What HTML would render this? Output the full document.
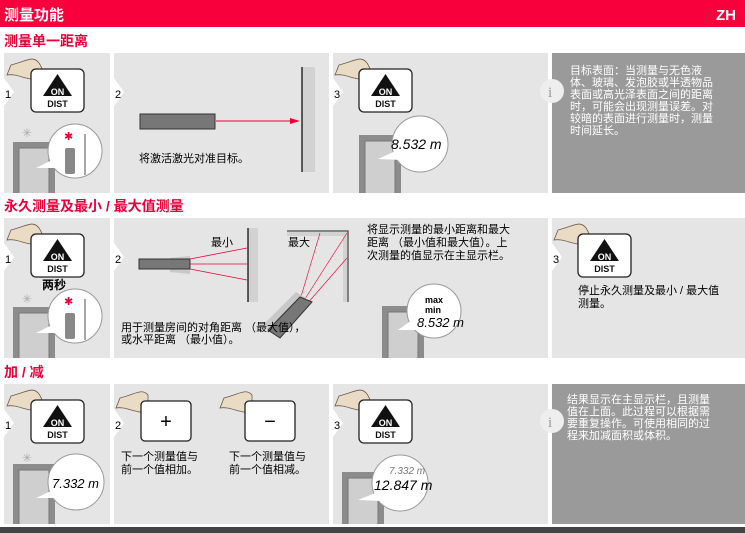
<!DOCTYPE html>
<html><head><meta charset="utf-8"><style>
body{margin:0;width:745px;height:533px;overflow:hidden;background:#fff;font-family:"Liberation Sans","Noto Sans CJK SC",sans-serif}
svg{display:block}
</style></head><body>
<svg width="745" height="533" viewBox="0 0 745 533" xmlns="http://www.w3.org/2000/svg" font-family="Liberation Sans, Noto Sans CJK SC, sans-serif">
<defs>
<clipPath id="r1"><rect x="0" y="53" width="745" height="140"/></clipPath>
<clipPath id="r2"><rect x="0" y="218" width="745" height="140"/></clipPath>
<clipPath id="r3"><rect x="0" y="384" width="745" height="140"/></clipPath>
<g id="btn">
 <path d="M8 -6 C2 -14 -4 -8 -20 -4 L-24 6 C-14 4 -4 12 8 10 C14 8 12 0 8 -6Z" fill="#eadbc4" stroke="#6d5b4a" stroke-width="0.8"/>
 <rect x="0" y="0" width="53" height="43" rx="5" fill="#fff" stroke="#222" stroke-width="1.3"/>
 <path d="M26.5 5 L41 27 L12 27Z" fill="#111"/>
 <text x="26.5" y="26" font-size="9" font-weight="bold" fill="#fff" text-anchor="middle">ON</text>
 <text x="26.5" y="38" font-size="9" font-weight="bold" fill="#111" text-anchor="middle">DIST</text>
</g>
<g id="dev">
 <rect x="0" y="0" width="42" height="70" fill="#8c8c8c"/>
 <rect x="6" y="6" width="30" height="64" fill="#cfcfcf" stroke="#777"/>
</g>
<g id="arrowTab"><path d="M0 0 L10 14 L0 28Z" fill="#fff"/></g>
</defs>

<rect x="0" y="0" width="745" height="27" fill="#f7003b"/>
<text x="4" y="20" font-size="15" font-weight="bold" fill="#fff">测量功能</text>
<text x="716" y="20" font-size="15" font-weight="bold" fill="#fff">ZH</text>
<text x="4" y="46" font-size="14" font-weight="bold" fill="#e8003a">测量单一距离</text>

<!-- row1 -->
<g clip-path="url(#r1)">
<rect x="4" y="53" width="106" height="140" fill="#e5e5e5"/>
<rect x="114" y="53" width="215" height="140" fill="#e5e5e5"/>
<rect x="333" y="53" width="215" height="140" fill="#e5e5e5"/>
<rect x="552" y="53" width="193" height="140" fill="#9a9a9a"/>
<use href="#arrowTab" x="4" y="78"/><use href="#arrowTab" x="114" y="78"/><use href="#arrowTab" x="333" y="78"/>
<text x="5" y="98" font-size="11">1</text><text x="115" y="98" font-size="11">2</text><text x="334" y="98" font-size="11">3</text>
<use href="#btn" x="31" y="69"/>
<use href="#dev" x="13" y="142"/>
<text x="22" y="137" font-size="12" fill="#aaa">✳</text>
<circle cx="75" cy="151" r="27" fill="#fff" stroke="#999"/>
<path d="M52 160 L36 168 L55 168Z" fill="#fff"/>
<rect x="65" y="148" width="10" height="26" rx="2" fill="#888"/>
<text x="64" y="140" font-size="11" fill="#e8003a">✱</text>
<line x1="85" y1="175" x2="85" y2="134" stroke="#888" stroke-width="1.5"/>
<rect x="140" y="114" width="75" height="15" fill="#777" stroke="#333"/>
<line x1="216" y1="121" x2="292" y2="121" stroke="#e8003a"/>
<path d="M290 118 L300 121 L290 124Z" fill="#e8003a"/>
<rect x="302" y="67" width="13" height="105" fill="#d2d2d2"/>
<line x1="302" y1="67" x2="302" y2="172" stroke="#111" stroke-width="1.3"/>
<text x="139" y="162" font-size="11">将激活激光对准目标。</text>
<use href="#btn" x="359" y="69"/>
<use href="#dev" x="359" y="135"/>
<circle cx="420" cy="144" r="28" fill="#fff" stroke="#999"/>
<path d="M398 150 L378 159 L402 160Z" fill="#fff"/>
<text x="391" y="149" font-size="14" font-style="italic">8.532 m</text>
<circle cx="552" cy="91" r="12" fill="#eee"/>
<text x="548" y="97" font-size="15" font-family="Liberation Serif,serif" fill="#999">i</text>
<g font-size="11" fill="#fff"><text x="570" y="74">目标表面：当测量与无色液</text><text x="570" y="86">体、玻璃、发泡胶或半透物品</text><text x="570" y="98">表面或高光泽表面之间的距离</text><text x="570" y="110">时，可能会出现测量误差。对</text><text x="570" y="122">较暗的表面进行测量时，测量</text><text x="570" y="134">时间延长。</text></g>
</g>

<!-- row2 -->
<text x="4" y="211" font-size="14" font-weight="bold" fill="#e8003a">永久测量及最小 / 最大值测量</text>
<g clip-path="url(#r2)">
<rect x="4" y="218" width="106" height="140" fill="#e5e5e5"/>
<rect x="114" y="218" width="434" height="140" fill="#e5e5e5"/>
<rect x="552" y="218" width="193" height="140" fill="#e5e5e5"/>
<use href="#arrowTab" x="4" y="243"/><use href="#arrowTab" x="114" y="243"/><use href="#arrowTab" x="552" y="243"/>
<text x="5" y="263" font-size="11">1</text><text x="115" y="263" font-size="11">2</text><text x="553" y="263" font-size="11">3</text>
<use href="#btn" x="31" y="234"/>
<text x="42" y="289" font-size="12" font-weight="bold">两秒</text>
<use href="#dev" x="13" y="307"/>
<text x="22" y="303" font-size="12" fill="#aaa">✳</text>
<circle cx="75" cy="316" r="27" fill="#fff" stroke="#999"/>
<path d="M52 325 L36 333 L55 333Z" fill="#fff"/>
<rect x="65" y="313" width="10" height="26" rx="2" fill="#888"/>
<text x="64" y="305" font-size="11" fill="#e8003a">✱</text>
<line x1="85" y1="340" x2="85" y2="299" stroke="#888" stroke-width="1.5"/>
<path d="M170 258 L190 256 L190 274 L170 272Z" fill="#c8c8c8"/>
<rect x="139" y="259" width="51" height="10" fill="#777" stroke="#333"/>
<g stroke="#e8003a" stroke-width="0.8"><line x1="190" y1="264" x2="247" y2="264"/><line x1="190" y1="259" x2="247" y2="248"/><line x1="190" y1="269" x2="247" y2="280"/></g>
<rect x="248" y="228" width="10" height="74" fill="#d2d2d2"/>
<line x1="248" y1="228" x2="248" y2="302" stroke="#111" stroke-width="1.3"/>
<text x="211" y="246" font-size="11">最小</text>
<text x="288" y="246" font-size="11">最大</text>
<rect x="287" y="230" width="62" height="6" fill="#d2d2d2"/><rect x="343" y="230" width="6" height="72" fill="#d2d2d2"/>
<path d="M287 231 L348 231 L348 302" fill="none" stroke="#555" stroke-width="1.3"/>
<g stroke="#e8003a" stroke-width="0.6"><line x1="300" y1="300" x2="320" y2="233"/><line x1="303" y1="302" x2="347" y2="233"/><line x1="306" y1="305" x2="347" y2="258"/></g>
<path d="M262 326 L296 292 L306 298 L272 332Z" fill="#c8c8c8"/>
<path d="M268 330 L300 297 L312 302 L280 338Z" fill="#777" stroke="#333"/>
<text x="121" y="331" font-size="11">用于测量房间的对角距离 （最大值），</text>
<text x="121" y="343" font-size="11">或水平距离 （最小值）。</text>
<g font-size="11"><text x="367" y="233">将显示测量的最小距离和最大</text><text x="367" y="246">距离 （最小值和最大值）。上</text><text x="367" y="259">次测量的值显示在主显示栏。</text></g>
<use href="#dev" x="382" y="306"/>
<circle cx="434" cy="311" r="27" fill="#fff" stroke="#999"/>
<path d="M412 320 L398 330 L416 330Z" fill="#fff"/>
<text x="425" y="303" font-size="9" font-weight="bold">max</text>
<text x="425" y="313" font-size="9" font-weight="bold">min</text>
<text x="417" y="327" font-size="13" font-style="italic">8.532 m</text>
<use href="#btn" x="578" y="234"/>
<g font-size="11"><text x="578" y="294">停止永久测量及最小 / 最大值</text><text x="578" y="307">测量。</text></g>
</g>

<!-- row3 -->
<text x="4" y="377" font-size="14" font-weight="bold" fill="#e8003a">加 / 减</text>
<g clip-path="url(#r3)">
<rect x="4" y="384" width="106" height="140" fill="#e5e5e5"/>
<rect x="114" y="384" width="215" height="140" fill="#e5e5e5"/>
<rect x="333" y="384" width="215" height="140" fill="#e5e5e5"/>
<rect x="552" y="384" width="193" height="140" fill="#9a9a9a"/>
<use href="#arrowTab" x="4" y="409"/><use href="#arrowTab" x="114" y="409"/><use href="#arrowTab" x="333" y="409"/>
<text x="5" y="429" font-size="11">1</text><text x="115" y="429" font-size="11">2</text><text x="334" y="429" font-size="11">3</text>
<use href="#btn" x="31" y="400"/>
<use href="#dev" x="13" y="464"/>
<text x="22" y="462" font-size="12" fill="#aaa">✳</text>
<circle cx="76" cy="482" r="28" fill="#fff" stroke="#999"/>
<path d="M53 490 L36 498 L56 498Z" fill="#fff"/>
<text x="52" y="488" font-size="13" font-style="italic">7.332 m</text>
<path d="M148 395 C142 388 136 394 120 398 L116 408 C126 406 136 414 148 412Z" fill="#eadbc4" stroke="#6d5b4a" stroke-width="0.8"/>
<rect x="141" y="401" width="50" height="40" rx="4" fill="#fff" stroke="#222" stroke-width="1.3"/>
<text x="166" y="428" font-size="20" text-anchor="middle">+</text>
<path d="M252 395 C246 388 240 394 224 398 L220 408 C230 406 240 414 252 412Z" fill="#eadbc4" stroke="#6d5b4a" stroke-width="0.8"/>
<rect x="245" y="401" width="50" height="40" rx="4" fill="#fff" stroke="#222" stroke-width="1.3"/>
<text x="270" y="428" font-size="20" text-anchor="middle">−</text>
<g font-size="11"><text x="121" y="460">下一个测量值与</text><text x="121" y="473">前一个值相加。</text><text x="229" y="460">下一个测量值与</text><text x="229" y="473">前一个值相减。</text></g>
<use href="#btn" x="359" y="400"/>
<use href="#dev" x="342" y="472"/>
<circle cx="400" cy="483" r="28" fill="#fff" stroke="#999"/>
<path d="M378 492 L358 500 L382 501Z" fill="#fff"/>
<text x="389" y="474" font-size="10" font-style="italic" fill="#777">7.332 m</text>
<text x="374" y="490" font-size="14" font-style="italic">12.847 m</text>
<circle cx="552" cy="421" r="12" fill="#eee"/>
<text x="548" y="427" font-size="15" font-family="Liberation Serif,serif" fill="#999">i</text>
<g font-size="11" fill="#fff"><text x="567" y="403">结果显示在主显示栏，且测量</text><text x="567" y="415">值在上面。此过程可以根据需</text><text x="567" y="427">要重复操作。可使用相同的过</text><text x="567" y="439">程来加减面积或体积。</text></g>
</g>
<rect x="0" y="527" width="745" height="6" fill="#444"/>
</svg>
</body></html>
